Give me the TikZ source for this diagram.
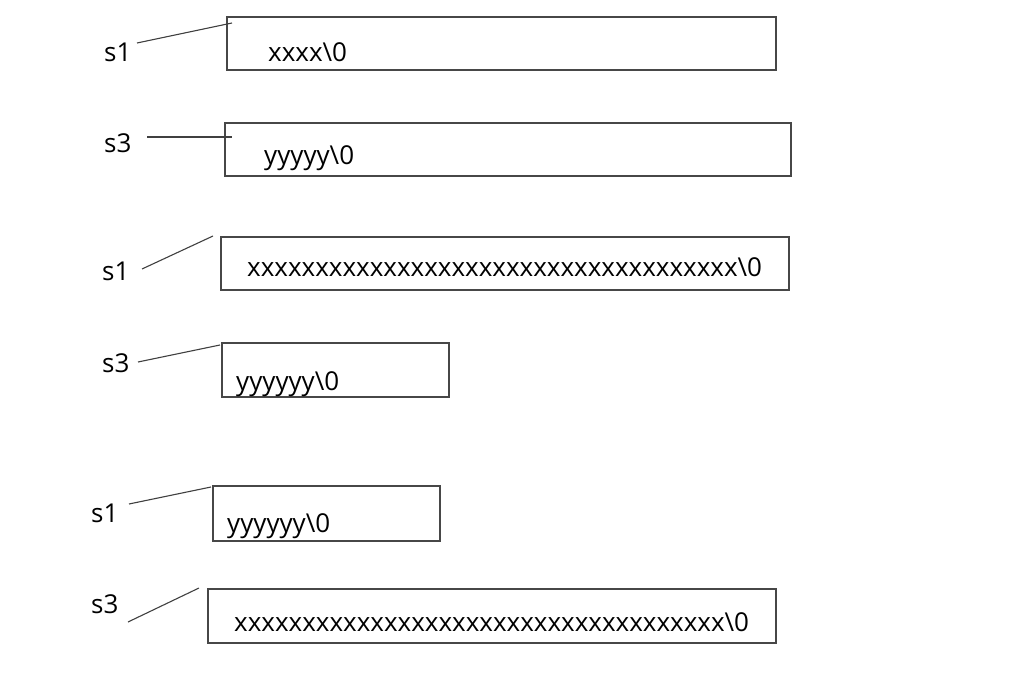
\documentclass[tikz,border=0pt]{standalone}
\usepackage{fontspec}
\setmainfont{Open Sans}
\begin{document}
\begin{tikzpicture}[x=1pt,y=-1pt,
  strbox/.style={draw=black!72,line width=1.2pt},
  txt/.style={anchor=base west,inner sep=0pt,font=\fontsize{26}{30}\selectfont,text=black},
  lbl/.style={anchor=base west,inner sep=0pt,font=\fontsize{26}{30}\selectfont,text=black},
  ptr/.style={draw=black!75,line width=1.1pt}]
\useasboundingbox[fill=white] (0,0) rectangle (1018,690);
% boxes
\draw[strbox] (227,17) rectangle (776,70) coordinate (b1);
\draw[strbox] (225,123) rectangle (791,176) coordinate (b2);
\draw[strbox] (221,237) rectangle (789,290) coordinate (b3);
\draw[strbox] (222,343) rectangle (449,397) coordinate (b4);
\draw[strbox] (213,486) rectangle (440,541) coordinate (b5);
\draw[strbox] (208,589) rectangle (776,643) coordinate (b6);
% contents
\node[txt] (t1) at (268,62) {xxxx\textbackslash 0};
\node[txt] (t2) at (264,165) {yyyyy\textbackslash 0};
\node[txt] (t3) at (247,276) {xxxxxxxxxxxxxxxxxxxxxxxxxxxxxxxxxxxx\textbackslash 0};
\node[txt] (t4) at (236,390) {yyyyyy\textbackslash 0};
\node[txt] (t5) at (227,532) {yyyyyy\textbackslash 0};
\node[txt] (t6) at (234,631) {xxxxxxxxxxxxxxxxxxxxxxxxxxxxxxxxxxxx\textbackslash 0};
% labels
\node[lbl] (l1) at (104,62) {s1};
\node[lbl] (l2) at (104,153) {s3};
\node[lbl] (l3) at (102,280) {s1};
\node[lbl] (l4) at (102,372) {s3};
\node[lbl] (l5) at (91,522) {s1};
\node[lbl] (l6) at (91,613) {s3};
% pointer ends
\coordinate (a1) at (137,43);  \coordinate (e1) at (232,23);
\coordinate (a2) at (147,137); \coordinate (e2) at (232,137);
\coordinate (a3) at (142,269); \coordinate (e3) at (213,236);
\coordinate (a4) at (138,362); \coordinate (e4) at (220,345);
\coordinate (a5) at (129,504); \coordinate (e5) at (211,487);
\coordinate (a6) at (128,622); \coordinate (e6) at (199,588);
\foreach \i in {1,...,6} {\draw[ptr] (a\i) -- (e\i);}
\end{tikzpicture}
\end{document}
